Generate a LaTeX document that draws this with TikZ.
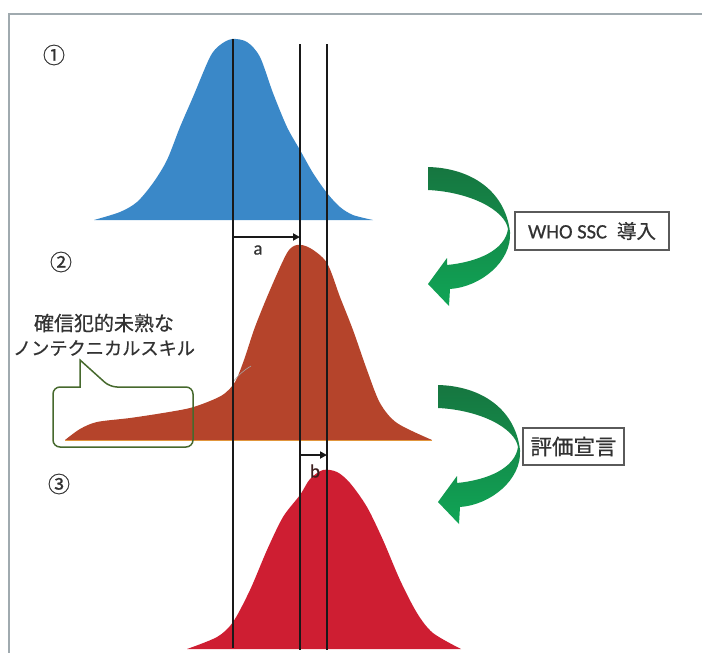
\documentclass[tikz,border=0pt]{standalone}
\usepackage{fontspec}
\newfontfamily\jp[FakeBold=0.6]{Noto Sans CJK JP}
\newfontfamily\lat[FakeBold=0.5]{Carlito}
\usetikzlibrary{arrows.meta}
\definecolor{bluec}{RGB}{58,136,200}
\definecolor{brownc}{RGB}{181,68,43}
\definecolor{redc}{RGB}{206,30,50}
\definecolor{txt}{RGB}{50,50,50}
\definecolor{btxt}{RGB}{60,30,30}
\definecolor{gdark}{RGB}{22,118,64}
\definecolor{glight}{RGB}{16,165,86}
\definecolor{callg}{RGB}{70,105,45}
\definecolor{framec}{RGB}{160,170,175}
\definecolor{linec}{RGB}{25,25,25}
\definecolor{boxc}{RGB}{90,90,90}
\definecolor{orangec}{RGB}{225,150,60}
\tikzset{
  vline/.style={line width=2pt, draw=linec},
  shiftarrow/.style={line width=1.8pt, draw=linec, -{Triangle[length=7pt,width=7pt]}},
  labelbox/.style={draw=boxc, line width=1.1pt, fill=white, inner sep=0pt, text=txt},
  numlbl/.style={font=\jp\fontsize{22}{24}\selectfont, text=txt, inner sep=0pt},
  greenarrow/.style={top color=gdark, bottom color=glight, draw=none},
}
\begin{document}
\begin{tikzpicture}[x=1pt,y=-1pt]
\useasboundingbox (0,0) rectangle (702,653);
% frame
\coordinate (f1) at (702,14);
\coordinate (f2) at (9,14);
\coordinate (f3) at (9,653);
\draw[framec, line width=1.3pt] (f1) -- (f2) -- (f3);

% distributions
\fill[bluec] plot[smooth,tension=0.5] coordinates {(94,220) (120,212) (137,202) (153,183) (167,160) (180,127) (193,97) (210,57) (220,45) (232,39) (247,42) (260,57) (273,93) (287,127) (300,150) (313,173) (327,193) (340,207) (353,215) (373,220)} -- cycle;
\fill[brownc] plot[smooth,tension=0.5] coordinates {(65,440) (80,429) (97,422) (130,418) (163,413) (190,408) (210,401) (224,394) (235,382) (244,360) (255,327) (270,290) (287,253) (297,245) (310,248) (327,263) (340,297) (353,330) (367,370) (380,403) (397,423) (432,440)} -- cycle;
\coordinate (bb1) at (65,440.5);
\coordinate (bb2) at (432,440.5);
\draw[orangec, line width=1pt] (bb1) -- (bb2);
\coordinate (gs1) at (233,382);
\coordinate (gs2) at (251,366);
\draw[gray!70, line width=0.6pt] (gs1) to[bend left=10] (gs2);
\fill[redc] plot[smooth,tension=0.5] coordinates {(187,649) (217,637) (233,622) (250,590) (267,550) (283,517) (300,495) (310,479) (323,470) (337,472) (350,483) (367,507) (383,540) (400,580) (417,613) (433,633) (461,649)} -- cycle;

% vertical lines
\coordinate (l1a) at (232.5,39);
\coordinate (l1b) at (232.5,648);
\coordinate (l2a) at (300,44);
\coordinate (l2b) at (300,650);
\coordinate (l3a) at (327,44);
\coordinate (l3b) at (327,650);
\draw[vline] (l1a) -- (l1b);
\draw[vline] (l2a) -- (l2b);
\draw[vline] (l3a) -- (l3b);

% shift arrows
\coordinate (a1) at (232.5,237);
\coordinate (a2) at (300,237);
\draw[shiftarrow] (a1) -- (a2);
\node[font=\lat\fontsize{19}{20}\selectfont, text=txt] (la) at (258,250) {a};
\coordinate (b1) at (300,455);
\coordinate (b2) at (327,455);
\draw[shiftarrow] (b1) -- (b2);
\node[font=\lat\fontsize{19}{20}\selectfont, text=btxt] (lb) at (315,471) {b};

% circled numbers
\node[numlbl] (n1) at (54,55) {①};
\node[numlbl] (n2) at (61,262) {②};
\node[numlbl] (n3) at (59,484) {③};

% callout
\node[font=\jp\fontsize{20}{22}\selectfont, text=txt, inner sep=0pt] (c1) at (104,323) {確信犯的未熟な};
\node[font=\jp\fontsize{18.2}{20}\selectfont, text=txt, inner sep=0pt] (c2) at (104,348) {ノンテクニカルスキル};
\coordinate (p0) at (80,360);
\coordinate (p1) at (80,387);
\coordinate (p2) at (53,387);
\coordinate (p3) at (53,447);
\coordinate (p4) at (193,447);
\coordinate (p5) at (193,387);
\coordinate (p6) at (110,387);
\draw[callg, line width=1.5pt] (p0) -- (p1) [rounded corners=7pt] -- (p2) -- (p3) -- (p4) -- (p5) -- (p6) [sharp corners] -- cycle;

% green curved arrows
\foreach \dx/\dy in {0/0, 10/218} {
\begin{scope}[shift={(\dx,\dy)}]
\shade[greenarrow] (428,167) .. controls (470,168) and (505,190) .. (510,232)
  .. controls (512,262) and (480,287) .. (450,289)
  -- (449,306) -- (428,284) -- (447,258) -- (447,265)
  .. controls (478,262) and (505,250) .. (508,229)
  .. controls (505,210) and (470,192) .. (428,190) -- cycle;
\end{scope}
}

% label boxes
\node[labelbox, minimum width=154pt, minimum height=38pt] (who) at (592,231) {\lat\fontsize{20.5}{22}\selectfont WHO SSC\hspace{10pt}\jp\fontsize{19.5}{22}\selectfont 導入};
\node[labelbox, minimum width=101pt, minimum height=37pt] (eval) at (573.5,446.5) {\jp\fontsize{21.5}{24}\selectfont 評価宣言};
\end{tikzpicture}
\end{document}
